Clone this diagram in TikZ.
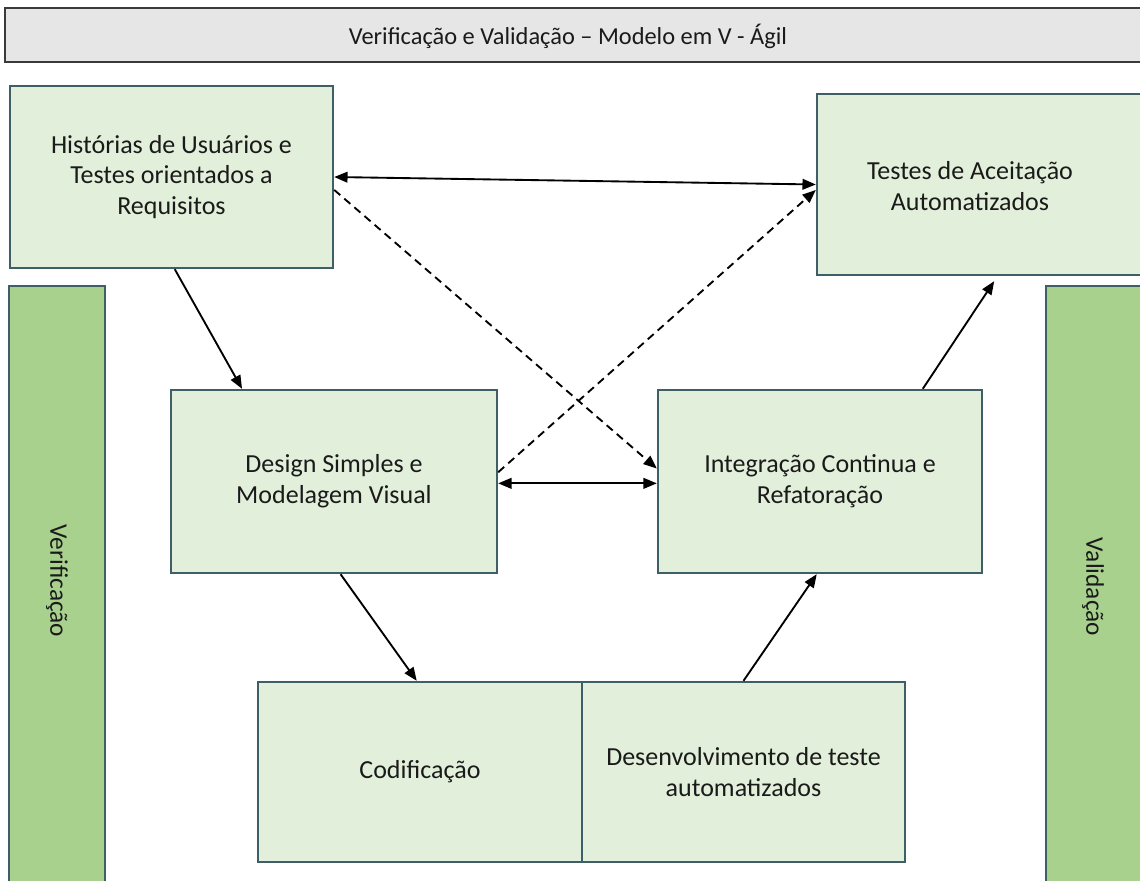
\documentclass[tikz,border=0pt]{standalone}
\usepackage{fontspec}
\setmainfont{Carlito}
\usetikzlibrary{arrows.meta,calc}
\definecolor{boxfill}{HTML}{E2EFDA}
\definecolor{boxline}{HTML}{3F5F66}
\definecolor{barfill}{HTML}{A9D18E}
\definecolor{titlefill}{HTML}{E7E6E6}
\definecolor{titleline}{HTML}{3A3A3A}
\definecolor{ink}{HTML}{1A1A1A}
\tikzset{
  stage/.style={draw=boxline, fill=boxfill, line width=1.8pt, rectangle,
    align=center, text=ink, inner sep=0pt, font=\fontsize{19.5}{23}\selectfont},
  sidebar/.style={draw=boxline, fill=barfill, line width=1.8pt, rectangle, inner sep=0pt},
  sidetext/.style={rotate=-90, text=ink, font=\fontsize{19}{22}\selectfont},
  titlebar/.style={draw=titleline, fill=titlefill, line width=1.8pt, rectangle, inner sep=0pt},
  flow/.style={line width=1.4pt, -{Triangle[length=10pt,width=8pt]}},
  both/.style={line width=1.4pt, {Triangle[length=10pt,width=8pt]}-{Triangle[length=10pt,width=8pt]}},
  trace/.style={line width=1.4pt, dash pattern=on 6pt off 4pt, -{Triangle[length=10pt,width=8pt]}},
}
\begin{document}
\begin{tikzpicture}[x=0.75pt, y=-0.75pt]
  % page frame in pixel-like units
  \clip (0,0) rectangle (1140,881);
  \fill[white] (0,0) rectangle (1140,881);

  % title bar
  \node[titlebar, minimum width=1145*0.75pt, minimum height=54*0.75pt] (title) at (577.5,35) {};
  \node[text=ink, font=\fontsize{18.3}{22}\selectfont] (titletext) at (568,36)
    {Verificação e Validação – Modelo em V - Ágil};

  % side bars
  \node[sidebar, minimum width=96*0.75pt, minimum height=604*0.75pt] (ver) at (57,588) {};
  \node[sidetext] (vertext) at (57,581) {Verificação};
  \node[sidebar, minimum width=104*0.75pt, minimum height=604*0.75pt] (val) at (1098,588) {};
  \node[sidetext] (valtext) at (1093,587) {Validação};

  % stages of the V
  \node[stage, minimum width=323*0.75pt, minimum height=182*0.75pt] (A) at (171.5,177)
    {Histórias de Usuários e\\Testes orientados a\\Requisitos};
  \node[stage, minimum width=328*0.75pt, minimum height=181*0.75pt] (B) at (981,184.5) {};
  \node[text=ink, align=center, font=\fontsize{19.5}{23}\selectfont] (Btext) at (970,186)
    {Testes de Aceitação\\Automatizados};
  \node[stage, minimum width=326*0.75pt, minimum height=183*0.75pt] (C) at (334,481.5)
    {Design Simples e\\Modelagem Visual};
  \node[stage, minimum width=324*0.75pt, minimum height=183*0.75pt] (D) at (820,481.5)
    {Integração Continua e\\Refatoração};
  \node[stage, minimum width=324*0.75pt, minimum height=180*0.75pt] (E) at (420,772)
    {Codificação};
  \node[stage, minimum width=323*0.75pt, minimum height=180*0.75pt] (F) at (743.5,772)
    {Desenvolvimento de teste\\automatizados};

  % connectors
  \draw[both] ($(A.north east)!0.5!(A.south east)$) -- ($(B.north west)!0.5!(B.south west)$);
  \draw[trace] ($(A.north east)!0.57!(A.south east)$) -- ($(D.north west)!0.43!(D.south west)$);
  \draw[trace] ($(C.north east)!0.45!(C.south east)$) -- ($(B.north west)!0.53!(B.south west)$);
  \draw[both] ($(C.north east)!0.51!(C.south east)$) -- ($(D.north west)!0.51!(D.south west)$);
  \draw[flow] ($(A.south west)!0.51!(A.south east)$) -- ($(C.north west)!0.22!(C.north east)$);
  \draw[flow] ($(C.south west)!0.52!(C.south east)$) -- ($(E.north west)!0.49!(E.north east)$);
  \draw[flow] ($(F.north west)!0.50!(F.north east)$) -- ($(D.south west)!0.49!(D.south east)$);
  \draw[flow] ($(D.north west)!0.815!(D.north east)$) -- ($(B.south west)!0.54!(B.south east)+(0,5)$);
\end{tikzpicture}
\end{document}
